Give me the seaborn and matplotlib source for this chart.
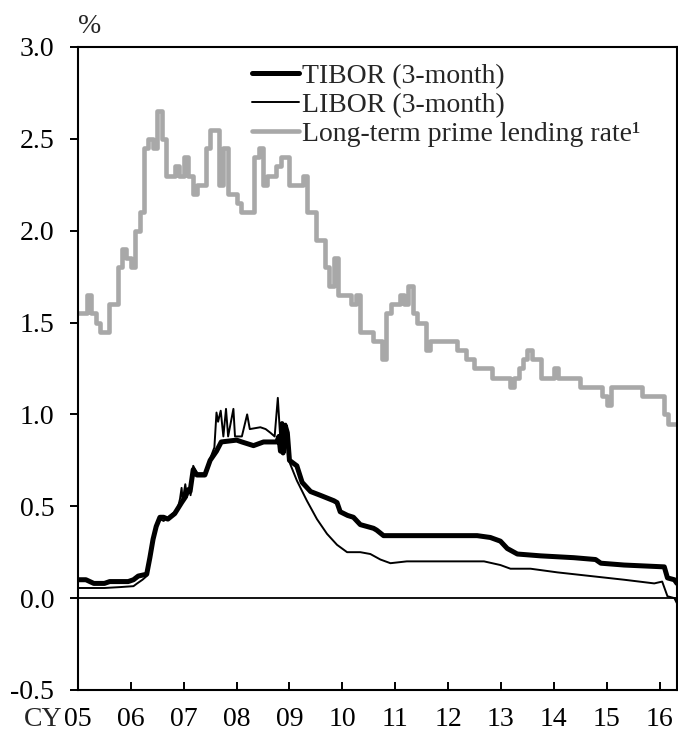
import numpy as np
import pandas as pd
import matplotlib.pyplot as plt
import seaborn as sns

# TIBOR (3-month), anchor points (decimal year, %)
tibor_dates = [2005.00, 2005.15, 2005.30, 2005.50, 2005.60, 2005.95, 2006.05, 2006.14,
               2006.30, 2006.36, 2006.42, 2006.48, 2006.55, 2006.62, 2006.70, 2006.83,
               2006.96, 2007.03, 2007.08, 2007.12, 2007.18, 2007.25, 2007.40, 2007.50,
               2007.62, 2007.71, 2008.00, 2008.10, 2008.32, 2008.51, 2008.76, 2008.80,
               2008.83, 2008.86, 2008.88, 2008.92, 2008.96, 2009.00, 2009.14, 2009.24,
               2009.40, 2009.58, 2009.84, 2009.90, 2009.96, 2010.10, 2010.21, 2010.34,
               2010.59, 2010.65, 2010.78, 2011.10, 2012.55, 2012.80, 2012.99, 2013.12,
               2013.31, 2013.75, 2014.38, 2014.79, 2014.89, 2015.33, 2016.09, 2016.15,
               2016.28, 2016.33]
tibor_values = [0.10, 0.10, 0.08, 0.08, 0.09, 0.09, 0.10, 0.12,
                0.13, 0.22, 0.32, 0.39, 0.44, 0.44, 0.43, 0.46,
                0.52, 0.55, 0.59, 0.58, 0.70, 0.67, 0.67, 0.75,
                0.80, 0.85, 0.86, 0.85, 0.83, 0.85, 0.85, 0.88,
                0.80, 0.95, 0.79, 0.94, 0.90, 0.75, 0.72, 0.63,
                0.58, 0.56, 0.53, 0.52, 0.47, 0.45, 0.44, 0.40,
                0.38, 0.37, 0.34, 0.34, 0.34, 0.33, 0.31, 0.27,
                0.24, 0.23, 0.22, 0.21, 0.19, 0.18, 0.17, 0.11,
                0.10, 0.08]

# LIBOR (3-month, yen)
libor_dates = [2005.00, 2005.50, 2005.80, 2006.05, 2006.12, 2006.22, 2006.30, 2006.36,
               2006.42, 2006.48, 2006.55, 2006.62, 2006.75, 2006.88, 2006.93, 2006.96,
               2006.98, 2007.03, 2007.06, 2007.10, 2007.13, 2007.18, 2007.25, 2007.40,
               2007.50, 2007.58, 2007.62, 2007.65, 2007.70, 2007.75, 2007.80, 2007.84,
               2007.94, 2007.97, 2008.10, 2008.20, 2008.25, 2008.45, 2008.55, 2008.64,
               2008.72, 2008.78, 2008.82, 2008.90, 2008.93, 2009.00, 2009.14, 2009.33,
               2009.52, 2009.71, 2009.90, 2010.09, 2010.34, 2010.53, 2010.72, 2010.91,
               2011.22, 2012.68, 2012.99, 2013.18, 2013.56, 2014.07, 2014.70, 2015.33,
               2015.90, 2016.05, 2016.15, 2016.28, 2016.35]
libor_values = [0.055, 0.055, 0.06, 0.065, 0.08, 0.10, 0.12, 0.21,
                0.31, 0.40, 0.43, 0.42, 0.45, 0.48, 0.54, 0.60,
                0.53, 0.62, 0.55, 0.60, 0.56, 0.72, 0.68, 0.68,
                0.76, 0.82, 1.01, 0.96, 1.02, 0.88, 1.03, 0.88,
                1.03, 0.88, 0.88, 1.00, 0.92, 0.93, 0.92, 0.90,
                0.88, 1.09, 0.90, 0.92, 0.95, 0.74, 0.64, 0.53,
                0.43, 0.35, 0.29, 0.25, 0.25, 0.24, 0.21, 0.19,
                0.20, 0.20, 0.18, 0.16, 0.16, 0.14, 0.12, 0.10,
                0.08, 0.09, 0.01, 0.00, -0.04]

# Long-term prime lending rate, monthly from Jan 2005
prime_rate = [
    1.55, 1.55, 1.65, 1.55, 1.50, 1.45, 1.45, 1.60, 1.60, 1.80, 1.90, 1.85,  # 2005
    1.80, 2.00, 2.10, 2.45, 2.50, 2.45, 2.65, 2.50, 2.30, 2.30, 2.35, 2.30,  # 2006
    2.40, 2.30, 2.20, 2.25, 2.25, 2.45, 2.55, 2.55, 2.25, 2.45, 2.20, 2.20,  # 2007
    2.15, 2.10, 2.10, 2.10, 2.40, 2.45, 2.25, 2.30, 2.30, 2.35, 2.40, 2.40,  # 2008
    2.25, 2.25, 2.25, 2.30, 2.10, 2.10, 1.95, 1.95, 1.80, 1.70, 1.85, 1.65,  # 2009
    1.65, 1.65, 1.60, 1.65, 1.45, 1.45, 1.45, 1.40, 1.40, 1.30, 1.55, 1.60,  # 2010
    1.60, 1.65, 1.60, 1.70, 1.55, 1.50, 1.50, 1.35, 1.40, 1.40, 1.40, 1.40,  # 2011
    1.40, 1.40, 1.35, 1.35, 1.30, 1.30, 1.25, 1.25, 1.25, 1.25, 1.20, 1.20,  # 2012
    1.20, 1.20, 1.15, 1.20, 1.25, 1.30, 1.35, 1.30, 1.30, 1.20, 1.20, 1.20,  # 2013
    1.25, 1.20, 1.20, 1.20, 1.20, 1.20, 1.15, 1.15, 1.15, 1.15, 1.15, 1.10,  # 2014
    1.05, 1.15, 1.15, 1.15, 1.15, 1.15, 1.15, 1.15, 1.10, 1.10, 1.10, 1.10,  # 2015
    1.10, 1.00, 0.95, 0.95,                                                  # 2016
]

year_ticks = list(range(2005, 2017))
year_labels = ['05', '06', '07', '08', '09', '10', '11', '12', '13', '14', '15', '16']

sns.set_style('ticks')
plt.rcParams['font.family'] = ['Liberation Serif', 'DejaVu Serif']
plt.rcParams['font.size'] = 20

fig, ax = plt.subplots(figsize=(6.78, 7.34), dpi=100)
fig.subplots_adjust(left=0.115, right=0.9985, top=0.936, bottom=0.06)

# monthly steps for the prime rate (extra point to finish the last step)
prime_x = 2005 + np.arange(len(prime_rate) + 1) / 12
prime_y = prime_rate + [prime_rate[-1]]

sns.lineplot(x=tibor_dates, y=tibor_values, ax=ax, color='black', lw=3.6,
             label='TIBOR (3-month)')
sns.lineplot(x=libor_dates, y=libor_values, ax=ax, color='black', lw=1.4,
             label='LIBOR (3-month)')
sns.lineplot(x=prime_x, y=prime_y, ax=ax, color='#a8a8a8', lw=3.3,
             drawstyle='steps-post', label='Long-term prime lending rate\u00b9')

ax.axhline(0, color='black', lw=1.3, zorder=1)

ax.set_xlim(2005, 2016.33)
ax.set_ylim(-0.5, 3.0)
ax.set_yticks(np.arange(-0.5, 3.01, 0.5))
ax.set_yticklabels([f'{v:.1f}' for v in np.arange(-0.5, 3.01, 0.5)])
ax.set_xticks(year_ticks)
ax.set_xticklabels(year_labels)
ax.set_xlabel('')
ax.set_ylabel('')

ax.tick_params(axis='y', direction='out', length=6, width=1.4, pad=11,
               colors='black', labelsize=20)
ax.tick_params(axis='x', direction='in', length=6, width=1.4, pad=12,
               colors='black', labelsize=20)
for s in ax.spines.values():
    s.set_visible(True)
    s.set_color('black')
    s.set_linewidth(1.5)

ax.annotate('CY', xy=(2005, 0), xycoords=('data', 'axes fraction'),
            xytext=(-11, -12), textcoords='offset points',
            ha='right', va='top', fontsize=20)
ax.text(0.0, 1.012, '%', transform=ax.transAxes, ha='left', va='bottom',
        fontsize=20)

leg = ax.legend(loc='upper left', bbox_to_anchor=(0.262, 1.0), frameon=False,
                handlelength=1.7, handletextpad=0.1, labelspacing=0.12,
                borderaxespad=0.2, fontsize=20)

plt.savefig('out.png', dpi=100)
